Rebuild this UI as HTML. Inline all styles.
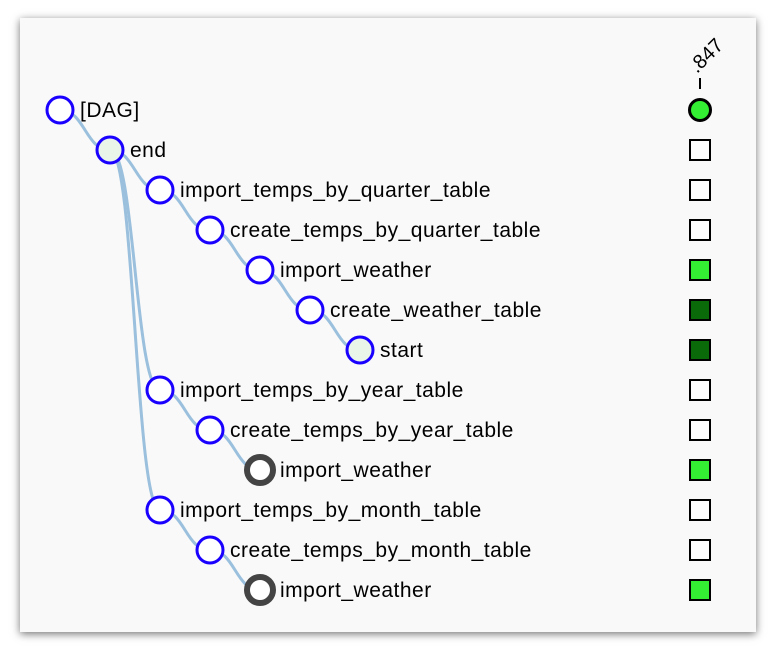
<!DOCTYPE html>
<html><head><style>
body{margin:0;background:#fff;width:776px;height:652px;overflow:hidden}
.card{position:absolute;left:20px;top:18px;width:736px;height:614px;background:#f9f9f9;box-shadow:0 2px 8px rgba(0,0,0,.55)}
svg{position:absolute;left:0;top:0}
text{font-family:"Liberation Sans",sans-serif;font-size:21px;letter-spacing:0.5px;fill:#000}
</style></head><body>
<div class="card"></div>
<svg width="776" height="652">
<g fill="none" stroke="#9ac0dd" stroke-width="3">
<path d="M60,110 C85,110 85,150 110,150"/>
<path d="M110,150 C135,150 135,190 160,190"/>
<path d="M160,190 C185,190 185,230 210,230"/>
<path d="M210,230 C235,230 235,270 260,270"/>
<path d="M260,270 C285,270 285,310 310,310"/>
<path d="M310,310 C335,310 335,350 360,350"/>
<path d="M110,150 C135,150 135,390 160,390"/>
<path d="M160,390 C185,390 185,430 210,430"/>
<path d="M210,430 C235,430 235,470 260,470"/>
<path d="M110,150 C135,150 135,510 160,510"/>
<path d="M160,510 C185,510 185,550 210,550"/>
<path d="M210,550 C235,550 235,590 260,590"/>
</g>
<g stroke="#1a00ff" stroke-width="3">
<circle cx="60" cy="110" r="13" fill="#fff"/>
<circle cx="110" cy="150" r="13" fill="#e8f5e8"/>
<circle cx="160" cy="190" r="13" fill="#fff"/>
<circle cx="210" cy="230" r="13" fill="#fff"/>
<circle cx="260" cy="270" r="13" fill="#fff"/>
<circle cx="310" cy="310" r="13" fill="#fff"/>
<circle cx="360" cy="350" r="13" fill="#e8f5e8"/>
<circle cx="160" cy="390" r="13" fill="#fff"/>
<circle cx="210" cy="430" r="13" fill="#fff"/>
<circle cx="160" cy="510" r="13" fill="#fff"/>
<circle cx="210" cy="550" r="13" fill="#fff"/>
</g>
<g stroke="#444" stroke-width="6" fill="#fff">
<circle cx="260" cy="470" r="13"/>
<circle cx="260" cy="590" r="13"/>
</g>
<g>
<text x="80" y="117">[DAG]</text>
<text x="130" y="157">end</text>
<text x="180" y="197">import_temps_by_quarter_table</text>
<text x="230" y="237">create_temps_by_quarter_table</text>
<text x="280" y="277">import_weather</text>
<text x="330" y="317">create_weather_table</text>
<text x="380" y="357">start</text>
<text x="180" y="397">import_temps_by_year_table</text>
<text x="230" y="437">create_temps_by_year_table</text>
<text x="280" y="477">import_weather</text>
<text x="180" y="517">import_temps_by_month_table</text>
<text x="230" y="557">create_temps_by_month_table</text>
<text x="280" y="597">import_weather</text>
</g>
<text x="0" y="0" transform="translate(697,74) rotate(-45)" style="font-size:20px;letter-spacing:0">.847</text>
<line x1="700" y1="78" x2="700" y2="89" stroke="#000" stroke-width="2"/>
<circle cx="700" cy="110" r="10.5" fill="#33ee33" stroke="#000" stroke-width="3"/>
<g stroke="#000" stroke-width="2">
<rect x="690" y="140" width="20" height="20" fill="#fff"/>
<rect x="690" y="180" width="20" height="20" fill="#fff"/>
<rect x="690" y="220" width="20" height="20" fill="#fff"/>
<rect x="690" y="260" width="20" height="20" fill="#33ee33"/>
<rect x="690" y="300" width="20" height="20" fill="#0a6a0a"/>
<rect x="690" y="340" width="20" height="20" fill="#0a6a0a"/>
<rect x="690" y="380" width="20" height="20" fill="#fff"/>
<rect x="690" y="420" width="20" height="20" fill="#fff"/>
<rect x="690" y="460" width="20" height="20" fill="#33ee33"/>
<rect x="690" y="500" width="20" height="20" fill="#fff"/>
<rect x="690" y="540" width="20" height="20" fill="#fff"/>
<rect x="690" y="580" width="20" height="20" fill="#33ee33"/>
</g>
</svg>
</body></html>
